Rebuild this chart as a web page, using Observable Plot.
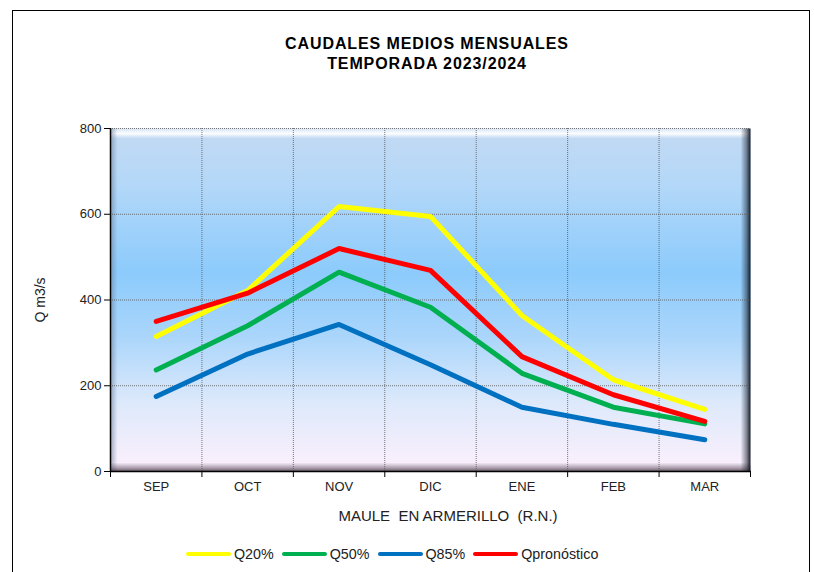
<!DOCTYPE html>
<html>
<head>
<meta charset="utf-8">
<script src="https://cdn.jsdelivr.net/npm/d3@7"></script>
<script src="https://cdn.jsdelivr.net/npm/@observablehq/plot@0.6"></script>
<style>
  html, body { margin: 0; padding: 0; background: #fff; }
  #wrap { position: relative; width: 814px; height: 572px; overflow: hidden; font-family: "Liberation Sans", Arial, sans-serif; }
  #border { position: absolute; left: 12px; top: 10px; width: 798px; height: 700px; border: 1px solid #000; box-sizing: border-box; }
  #title { position: absolute; left: 0; width: 854px; top: 34px; text-align: center; font-weight: bold; font-size: 16px; letter-spacing: 0.9px; line-height: 20px; color: #000; }
  #chart { position: absolute; left: 0; top: 0; }
  #ylabel { position: absolute; left: 40px; top: 300px; transform: translate(-50%, -50%) rotate(-90deg); font-size: 14px; color: #222; white-space: nowrap; }
  #xlabel { position: absolute; left: 248px; width: 400px; top: 507px; text-align: center; font-size: 15px; color: #222; white-space: pre; }
  #legend { position: absolute; top: 546px; left: 186px; font-size: 14.3px; color: #222; display: flex; align-items: center; }
  .item { display: flex; align-items: center; margin-right: 8px; }
  .sw { display: inline-block; width: 45px; height: 4px; border-radius: 2px; margin-right: 3px; }
</style>
</head>
<body>
<div id="wrap">
  <div id="border"></div>
  <div id="title">CAUDALES MEDIOS MENSUALES<br>TEMPORADA 2023/2024</div>
  <div id="chart"></div>
  <div id="ylabel">Q m3/s</div>
  <div id="xlabel">MAULE  EN ARMERILLO  (R.N.)</div>
  <div id="legend"></div>
</div>
<script>
const months = ["SEP", "OCT", "NOV", "DIC", "ENE", "FEB", "MAR"];
const seriesNames = ["Q20%", "Q50%", "Q85%", "Qpronóstico"];
const seriesColors = ["#ffff00", "#00b050", "#0070c0", "#ff0000"];
const q20 = [315, 422, 618, 595, 364, 214, 145];
const q50 = [237, 340, 465, 383, 229, 150, 111];
const q85 = [175, 274, 343, 249, 150, 110, 74];
const qpron = [350, 416, 520, 469, 268, 179, 117];
const yTicks = [0, 200, 400, 600, 800];

const allSeries = [q20, q50, q85, qpron];
const data = [];
allSeries.forEach((vals, s) => vals.forEach((v, i) => data.push({ serie: seriesNames[s], i, v })));

const centers = months.map((_, i) => i);
const bounds = d3.range(-0.5, months.length, 1);

const W = 814, H = 572, mL = 110, mR = 64, mT = 128, mB = 101;
const pw = W - mL - mR, ph = H - mT - mB;

const plot = Plot.plot({
  width: W, height: H,
  marginLeft: mL, marginRight: mR, marginTop: mT, marginBottom: mB,
  style: { fontFamily: "'Liberation Sans', Arial, sans-serif", fontSize: "13px", color: "#222", background: "transparent", overflow: "visible" },
  x: { type: "linear", domain: [-0.5, months.length - 0.5] },
  y: { domain: [0, 800] },
  color: { domain: seriesNames, range: seriesColors },
  marks: [
    Plot.frame({ fill: "url(#bgGrad)", stroke: null }),
    Plot.frame({ fill: "url(#topBevel)", stroke: null, insetBottom: ph - 10 }),
    Plot.frame({ fill: "url(#leftBevel)", stroke: null, insetRight: pw - 7 }),
    Plot.frame({ fill: "url(#bottomBevel)", stroke: null, insetTop: ph - 9 }),
    Plot.frame({ fill: "url(#rightBevel)", stroke: null, insetLeft: pw - 10 }),
    Plot.ruleY([200, 400, 600, 800], { stroke: "#555", strokeDasharray: "1,1", strokeWidth: 1, strokeOpacity: 0.8 }),
    Plot.ruleX(bounds.slice(1, -1), { stroke: "#555", strokeDasharray: "1,1", strokeWidth: 1, strokeOpacity: 0.8 }),
    Plot.line(data, { x: "i", y: "v", z: "serie", stroke: "serie", strokeWidth: 5, strokeLinejoin: "miter", strokeLinecap: "round" }),
    Plot.ruleX([-0.5], { stroke: "#000", strokeWidth: 1.5 }),
    Plot.ruleY([0], { stroke: "#000", strokeWidth: 1.5 }),
    Plot.axisY({ ticks: yTicks, tickSize: 6, tickPadding: 3, stroke: "#000", label: null, fontSize: 13 }),
    Plot.axisX({ ticks: bounds, tickSize: 6, tickFormat: () => "", stroke: "#000", label: null }),
    Plot.axisX({ ticks: centers, tickSize: 0, tickPadding: 10, tickFormat: i => months[i], label: null, fontSize: 13 })
  ]
});

const defs = `
<linearGradient id="bgGrad" x1="0" y1="0" x2="0" y2="1">
  <stop offset="0" stop-color="#c3d9f2"/>
  <stop offset="0.15" stop-color="#b5d8f8"/>
  <stop offset="0.42" stop-color="#8ccbfc"/>
  <stop offset="0.6" stop-color="#a9d5fb"/>
  <stop offset="0.8" stop-color="#dde9fb"/>
  <stop offset="1" stop-color="#fdf0fc"/>
</linearGradient>
<linearGradient id="topBevel" x1="0" y1="0" x2="0" y2="1">
  <stop offset="0" stop-color="#ffffff" stop-opacity="0.3"/>
  <stop offset="0.5" stop-color="#ffffff" stop-opacity="0.95"/>
  <stop offset="1" stop-color="#ffffff" stop-opacity="0"/>
</linearGradient>
<linearGradient id="leftBevel" x1="0" y1="0" x2="1" y2="0">
  <stop offset="0" stop-color="#6a7e9a" stop-opacity="0.6"/>
  <stop offset="1" stop-color="#6a7e9a" stop-opacity="0"/>
</linearGradient>
<linearGradient id="rightBevel" x1="0" y1="0" x2="1" y2="0">
  <stop offset="0" stop-color="#1a2230" stop-opacity="0"/>
  <stop offset="0.6" stop-color="#1a2230" stop-opacity="0.5"/>
  <stop offset="1" stop-color="#0a0f18" stop-opacity="0.95"/>
</linearGradient>
<linearGradient id="bottomBevel" x1="0" y1="0" x2="0" y2="1">
  <stop offset="0" stop-color="#4a3a4a" stop-opacity="0"/>
  <stop offset="0.6" stop-color="#4a3a4a" stop-opacity="0.45"/>
  <stop offset="1" stop-color="#3a2c3a" stop-opacity="0.8"/>
</linearGradient>`;
const d = document.createElementNS("http://www.w3.org/2000/svg", "defs");
d.innerHTML = defs;
plot.insertBefore(d, plot.firstChild);
document.getElementById("chart").appendChild(plot);

const legend = document.getElementById("legend");
seriesNames.forEach((n, k) => {
  const it = document.createElement("span");
  it.className = "item";
  it.innerHTML = `<span class="sw" style="background:${seriesColors[k]}"></span><span>${n}</span>`;
  legend.appendChild(it);
});
</script>
</body>
</html>
